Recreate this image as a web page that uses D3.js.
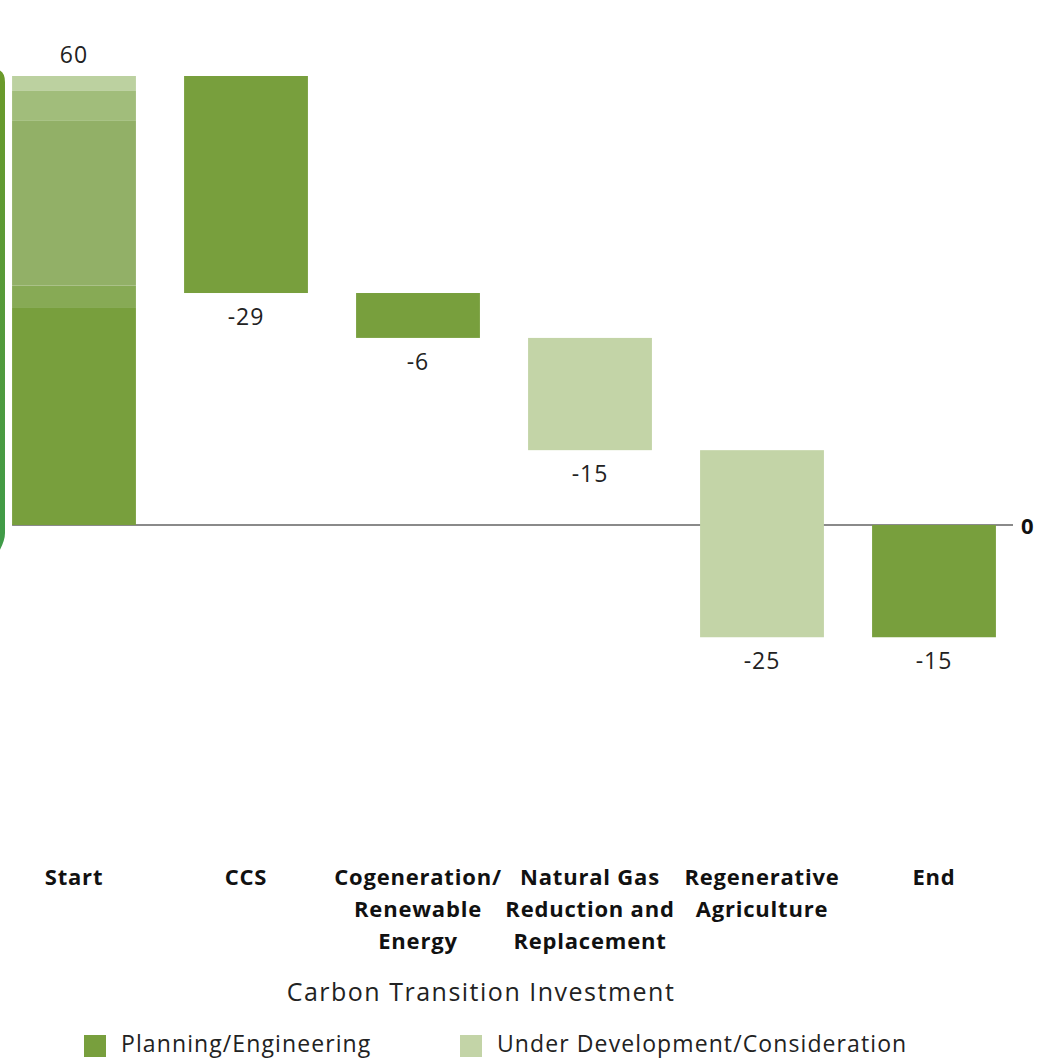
<!DOCTYPE html>
<html>
<head>
<meta charset="utf-8">
<script src="https://cdn.jsdelivr.net/npm/d3@7"></script>
<style>
  html, body { margin: 0; padding: 0; background: #ffffff; }
  svg { display: block; }
</style>
</head>
<body>
<svg id="chart" width="1037" height="1060"></svg>
<script>
// Waterfall of carbon transition investment steps
const categories = ["Start", "CCS", "Cogeneration/ Renewable Energy", "Natural Gas Reduction and Replacement", "Regenerative Agriculture", "End"];
const categoryLines = [["Start"], ["CCS"], ["Cogeneration/", "Renewable", "Energy"], ["Natural Gas", "Reduction and", "Replacement"], ["Regenerative", "Agriculture"], ["End"]];
const changes = [60, -29, -6, -15, -25, -15];
const status = ["mixed", "planning", "planning", "development", "development", "planning"];
// Layered composition of the starting total (upper bound of each layer)
const startLayerTops = [29, 32, 54, 58, 60];
const legendLabels = ["Planning/Engineering", "Under Development/Consideration"];
const axisTitle = "Carbon Transition Investment";

const COLOR_PLAN = "#789f3d";
const COLOR_DEV = "#c3d4a7";
const startLayerColors = ["#789f3d", "#87aa55", "#92b067", "#a1bd7b", "#bcd1a0"];

const svg = d3.select("#chart");

// Build bar extents: Start and End are totals from zero, steps float
let running = 0;
const bars = categories.map((c, i) => {
  let y0, y1;
  if (i === 0) { y0 = 0; y1 = changes[i]; running = changes[i]; }
  else if (i === categories.length - 1) { y0 = 0; y1 = changes[i]; }
  else { y0 = running; y1 = running + changes[i]; running = y1; }
  return { cat: c, i, y0, y1, value: changes[i], status: status[i] };
});

const x = d3.scaleBand().domain(categories).range([-12, 1020]).paddingInner(0.28).paddingOuter(0.14);
const y = d3.scaleLinear().domain([-15, 60]).range([637.25, 76]);

// Decorative frame edge on the left
const defs = svg.append("defs");
const grad = defs.append("linearGradient").attr("id", "edgeGrad").attr("x1", 0).attr("y1", 0).attr("x2", 0).attr("y2", 1);
grad.append("stop").attr("offset", "0%").attr("stop-color", "#6b9a2a");
grad.append("stop").attr("offset", "100%").attr("stop-color", "#3f9b48");
svg.append("path")
  .attr("d", "M -20,71.5 L -6,71.5 Q 2.5,71.5 2.5,82 L 2.5,533 Q 2.5,540 -3,550")
  .attr("fill", "none").attr("stroke", "url(#edgeGrad)").attr("stroke-width", 5);

// Zero baseline
svg.append("line")
  .attr("x1", x(categories[0])).attr("x2", 1013)
  .attr("y1", y(0)).attr("y2", y(0))
  .attr("stroke", "#8a8a8a").attr("stroke-width", 2);

// Bars
const g = svg.append("g");
bars.forEach(b => {
  if (b.status === "mixed") {
    let prev = 0;
    startLayerTops.forEach((top, k) => {
      g.append("rect")
        .attr("x", x(b.cat)).attr("width", x.bandwidth())
        .attr("y", y(top)).attr("height", y(prev) - y(top))
        .attr("fill", startLayerColors[k]);
      prev = top;
    });
  } else {
    const lo = Math.min(b.y0, b.y1), hi = Math.max(b.y0, b.y1);
    g.append("rect")
      .attr("x", x(b.cat)).attr("width", x.bandwidth())
      .attr("y", y(hi)).attr("height", y(lo) - y(hi))
      .attr("fill", b.status === "planning" ? COLOR_PLAN : COLOR_DEV);
  }
});

// Value labels
const baseFont = "'Open Sans', sans-serif";
bars.forEach(b => {
  const cx = x(b.cat) + x.bandwidth() / 2;
  const above = b.value > 0;
  const lo = Math.min(b.y0, b.y1), hi = Math.max(b.y0, b.y1);
  svg.append("text")
    .attr("x", cx)
    .attr("y", above ? y(hi) - 13 : y(lo) + 32)
    .attr("text-anchor", "middle")
    .attr("font-family", baseFont).attr("font-size", 23)
    .attr("letter-spacing", 1)
    .attr("fill", "#222")
    .text(b.value);
});

// Zero tick label
svg.append("text")
  .attr("x", 1021).attr("y", y(0) + 9)
  .attr("font-family", baseFont).attr("font-weight", 700).attr("font-size", 22)
  .attr("fill", "#111").text("0");

// Category labels
categoryLines.forEach((lines, i) => {
  const cx = x(categories[i]) + x.bandwidth() / 2;
  const t = svg.append("text")
    .attr("text-anchor", "middle")
    .attr("font-family", baseFont).attr("font-weight", 700).attr("font-size", 22)
    .attr("letter-spacing", 0.8)
    .attr("fill", "#111");
  lines.forEach((ln, k) => {
    t.append("tspan").attr("x", cx).attr("y", 885 + k * 32).text(ln);
  });
});

// Axis title
svg.append("text")
  .attr("x", 481).attr("y", 1001)
  .attr("text-anchor", "middle")
  .attr("font-family", baseFont).attr("font-size", 25)
  .attr("letter-spacing", 1.5)
  .attr("fill", "#222").text(axisTitle);

// Legend
const legendX = [84, 460];
const legendColors = [COLOR_PLAN, COLOR_DEV];
legendLabels.forEach((lab, i) => {
  svg.append("rect").attr("x", legendX[i]).attr("y", 1035).attr("width", 22).attr("height", 22).attr("fill", legendColors[i]);
  svg.append("text")
    .attr("x", legendX[i] + 37).attr("y", 1052)
    .attr("font-family", baseFont).attr("font-size", 23)
    .attr("letter-spacing", 1.1)
    .attr("fill", "#222").text(lab);
});
</script>
</body>
</html>
